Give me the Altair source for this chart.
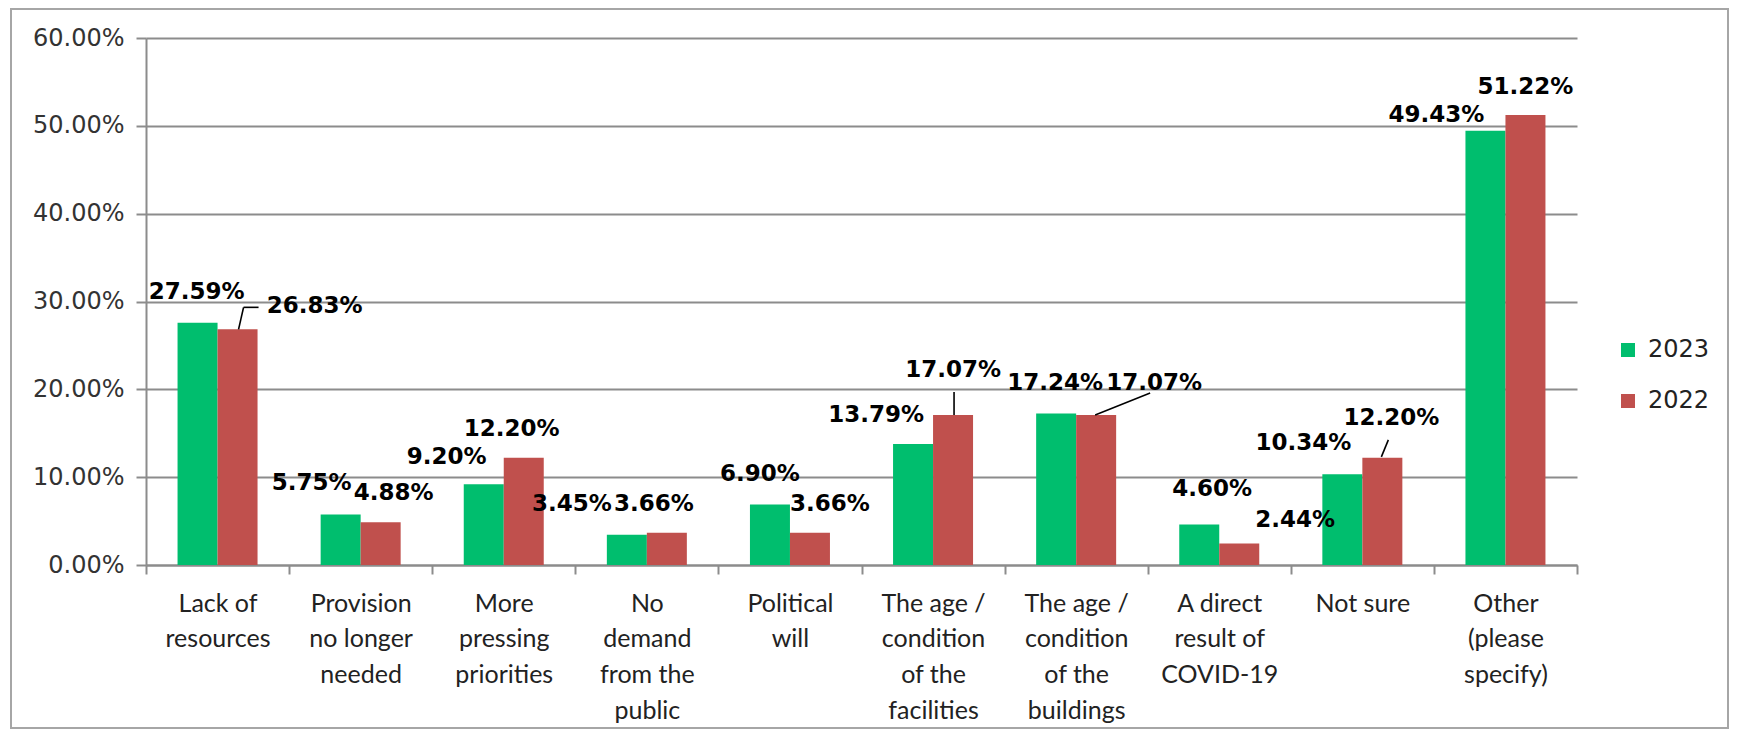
import json
import altair as alt
import pandas as pd

# ---- data ----
categories = [
    "Lack of resources", "Provision no longer needed", "More pressing priorities",
    "No demand from the public", "Political will", "The age / condition of the facilities",
    "The age / condition of the buildings", "A direct result of COVID-19", "Not sure",
    "Other (please specify)",
]
label_lines = [
    ["Lack of", "resources"], ["Provision", "no longer", "needed"], ["More", "pressing", "priorities"],
    ["No", "demand", "from the", "public"], ["Political", "will"],
    ["The age /", "condition", "of the", "facilities"], ["The age /", "condition", "of the", "buildings"],
    ["A direct", "result of", "COVID-19"], ["Not sure"], ["Other", "(please", "specify)"],
]
years = ["2023", "2022"]
v2023 = [27.59, 5.75, 9.20, 3.45, 6.90, 13.79, 17.24, 4.60, 10.34, 49.43]
v2022 = [26.83, 4.88, 12.20, 3.66, 3.66, 17.07, 17.07, 2.44, 12.20, 51.22]
y_ticks = [0, 10, 20, 30, 40, 50, 60]

# ---- layout / style (pixels) ----
W, H = 1431, 527
STEP = W / len(categories)
PXY = H / 60.0
BAR = 40
GREEN, RED = "#00BE6E", "#C0504D"
GRID = "#8C8C8C"

# label offsets (px) relative to bar top centre: dx, rise
dx_2023 = [-1, -29, -37, -55, -10, -37, -1, 13, -39, -49]
rise_2023 = [31, 31, 27, 31, 30, 29, 31, 36, 31, 16]
dx_2022 = [77, 13, -12, -13, 20, 0, 58, 56, 9, 0]
rise_2022 = [23, 29, 29, 29, 29, 45, 32, 24, 40, 28]

rows = []
for i, c in enumerate(categories):
    centre = i + 0.5
    for y, vals, dxs, rises, side in [("2023", v2023, dx_2023, rise_2023, -1), ("2022", v2022, dx_2022, rise_2022, 1)]:
        v = vals[i]
        x1 = centre if side > 0 else centre - BAR / STEP
        x2 = centre + BAR / STEP if side > 0 else centre
        xc = (x1 + x2) / 2
        rows.append(dict(cat=c, year=y, value=v, zero=0.0, x1=x1, x2=x2,
                         lx=xc + dxs[i] / STEP, ly=v + rises[i] / PXY,
                         label=f"{v:.2f}%"))
df = pd.DataFrame(rows)

# leader lines for some 2022 labels: (cat index, start dx, start rise, end dx, end rise) in px
leaders = [(0, 1, 0, 6, 22), (0, 6, 22, 21, 22), (5, 1, 0, 1, 23), (6, -1, 0, 54, 22), (8, -1, 1, 6, 18)]
lrows = []
for (i, sx, sy, ex, ey) in leaders:
    xc = i + 0.5 + (BAR / 2) / STEP
    v = v2022[i]
    lrows.append(dict(xa=xc + sx / STEP, xb=xc + ex / STEP, ya=v + sy / PXY, yb=v + ey / PXY))
ldf = pd.DataFrame(lrows)

xscale = alt.Scale(domain=[0, len(categories)], nice=False, zero=False)
yscale = alt.Scale(domain=[0, 60], nice=False, zero=False)

label_expr = f"datum.value % 1 == 0 ? '' : {json.dumps(label_lines)}[floor(datum.value)]"

x_axis = alt.Axis(
    values=[k * 0.5 for k in range(2 * len(categories) + 1)],
    labelExpr=label_expr, title=None, grid=False, labelAngle=0,
    tickSize=9, tickWidth=2, tickColor=GRID,
    tickOpacity={"condition": {"test": "datum.value % 1 == 0", "value": 1}, "value": 0},
    domainColor=GRID, domainWidth=2,
    labelFont="Liberation Sans Narrow, Lato, sans-serif", labelFontSize=25, labelColor="#222222",
    labelLineHeight=35.7, labelPadding=17, labelBaseline="top", labelOverlap=False, labelFlush=False,
)
y_axis = alt.Axis(
    values=y_ticks, labelExpr="format(datum.value, '.2f') + '%'", title=None,
    grid=True, gridColor=GRID, gridWidth=2, tickSize=10, tickWidth=2, tickColor=GRID,
    domainColor=GRID, domainWidth=2, labelFont="DejaVu Sans", labelFontSize=24,
    labelColor="#333333", labelPadding=12,
)

bars = alt.Chart(df).mark_bar().encode(
    x=alt.X("x1:Q", scale=xscale, axis=x_axis),
    x2="x2",
    y=alt.Y("value:Q", scale=yscale, axis=y_axis),
    y2="zero",
    color=alt.Color("year:N", scale=alt.Scale(domain=years, range=[GREEN, RED]),
                    legend=alt.Legend(orient="none", legendX=1470, legendY=300, title=None,
                                      symbolType="square", symbolSize=196, symbolStrokeWidth=0,
                                      labelFont="DejaVu Sans", labelFontSize=24, labelColor="#222222",
                                      labelOffset=8, rowPadding=27, padding=0)),
)

labels = alt.Chart(df).mark_text(font="DejaVu Sans", fontWeight="bold", fontSize=23,
                                 color="black", baseline="middle", align="center").encode(
    x=alt.X("lx:Q", scale=xscale, axis=x_axis),
    y=alt.Y("ly:Q", scale=yscale, axis=y_axis),
    text="label:N",
)

lead = alt.Chart(ldf).mark_rule(color="black", strokeWidth=1.6).encode(
    x=alt.X("xa:Q", scale=xscale, axis=x_axis), x2="xb",
    y=alt.Y("ya:Q", scale=yscale, axis=y_axis), y2="yb",
)

frame = alt.Chart(pd.DataFrame({"a": [0]})).mark_rect(filled=False, stroke="#A6A6A6", strokeWidth=2).encode(
    x=alt.value(-135), x2=alt.value(1582), y=alt.value(-29), y2=alt.value(690),
)

chart = alt.layer(bars, lead, labels, frame).properties(
    width=W, height=H,
    autosize=alt.AutoSizeParams(type="none"),
    padding={"left": 138, "top": 30, "right": 160, "bottom": 165},
).configure_view(stroke=None)

chart.save("out.html", embed_options={"renderer": "svg", "actions": False})
